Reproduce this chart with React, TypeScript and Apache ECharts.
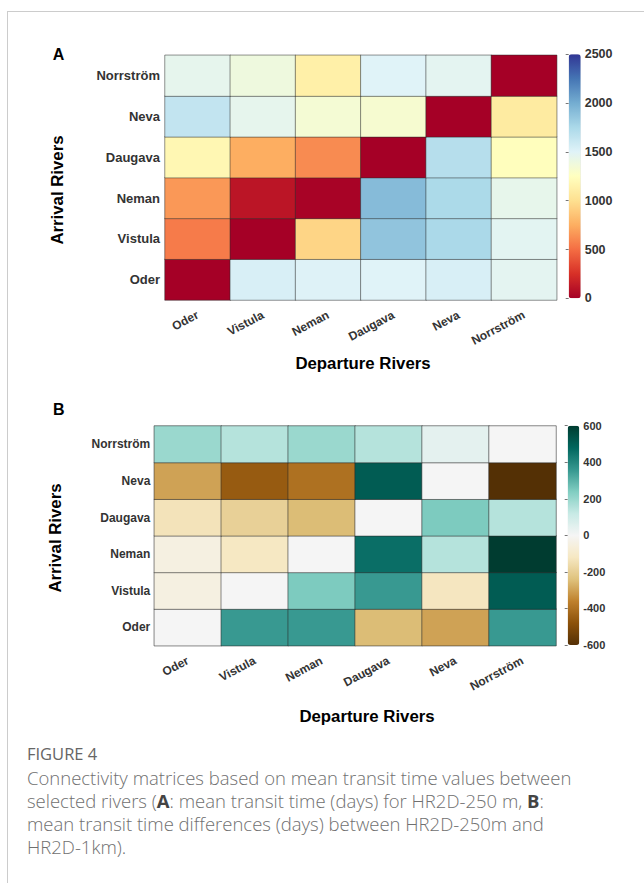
import React, { useEffect, useRef } from 'react';
import * as echarts from 'echarts';

// Departure (x) and arrival (y, bottom -> top) rivers
const rivers = ['Oder', 'Vistula', 'Neman', 'Daugava', 'Neva', 'Norrström'];

// Panel A: mean transit time (days); rows = arrival river (Oder first), cols = departure
const transitOder = [0, 1540, 1510, 1500, 1540, 1470];
const transitVistula = [555, 0, 945, 1870, 1750, 1475];
const transitNeman = [665, 110, 15, 1920, 1745, 1445];
const transitDaugava = [1185, 750, 615, 0, 1700, 1240];
const transitNeva = [1640, 1450, 1340, 1325, 0, 1090];
const transitNorrstrom = [1450, 1385, 1130, 1500, 1470, 0];
const transitA = [transitOder, transitVistula, transitNeman, transitDaugava, transitNeva, transitNorrstrom];

// Panel B: mean transit time differences (days)
const diffOder = [0, 355, 355, -250, -300, 355];
const diffVistula = [-48, 0, 245, 355, -125, 510];
const diffNeman = [-48, -120, 0, 460, 150, 600];
const diffDaugava = [-135, -195, -250, 0, 245, 150];
const diffNeva = [-300, -455, -400, 510, 0, -600];
const diffNorrstrom = [196, 150, 196, 150, 44, 0];
const diffB = [diffOder, diffVistula, diffNeman, diffDaugava, diffNeva, diffNorrstrom];

const rangeA = [0, 2500];
const stepA = 500;
const rangeB = [-600, 600];
const stepB = 200;

const colorsA = ['#a50026', '#d73027', '#f46d43', '#fdae61', '#fee090', '#ffffbf', '#e0f3f8', '#abd9e9', '#74add1', '#4575b4', '#313695'];
const colorsB = ['#543005', '#8c510a', '#bf812d', '#dfc27d', '#f6e8c3', '#f5f5f5', '#c7eae5', '#80cdc1', '#35978f', '#01665e', '#003c30'];

const figureLabel = 'FIGURE 4';
const captionLines = [
  'Connectivity matrices based on mean transit time values between',
  'selected rivers ({b|A}: mean transit time (days) for HR2D-250 m, {b|B}:',
  'mean transit time differences (days) between HR2D-250m and',
  'HR2D-1km).',
];

function toCells(m: number[][]) {
  const out: number[][] = [];
  m.forEach((row, yi) => row.forEach((v, xi) => out.push([xi, yi, v])));
  return out;
}

const FONT = '"Liberation Sans", Arial, Helvetica, sans-serif';
const CAP_FONT = '"Open Sans", "Noto Sans", sans-serif';

export default function App() {
  const ref = useRef<HTMLDivElement>(null);
  useEffect(() => {
    if (!ref.current) return;
    const chart = echarts.init(ref.current, undefined, { renderer: 'svg' });

    const gA = { left: 165, top: 55.3, width: 391.7, height: 244.7 };
    const gB = { left: 154.3, top: 426, width: 401.7, height: 219.7 };
    const cA = { left: 568.7, top: 54.3, width: 12, height: 244 };
    const cB = { left: 567.7, top: 425.7, width: 11.6, height: 219.3 };

    const catX = (gi: number, fs: number) => ({
      type: 'category', gridIndex: gi, data: rivers,
      axisLine: { show: false }, axisTick: { show: false }, splitLine: { show: false },
      axisLabel: { rotate: 28, margin: 14, fontSize: fs, fontWeight: 'bold', color: '#333', fontFamily: FONT, interval: 0 },
    });
    const catY = (gi: number, fs: number, margin: number) => ({
      type: 'category', gridIndex: gi, data: rivers,
      axisLine: { show: false }, axisTick: { show: false }, splitLine: { show: false },
      axisLabel: { margin, fontSize: fs, fontWeight: 'bold', color: '#333', fontFamily: FONT, interval: 0 },
    });
    const barY = (gi: number, range: number[], step: number, fs: number) => ({
      type: 'value', gridIndex: gi, min: range[0], max: range[1], interval: step, position: 'right',
      axisLine: { show: false }, splitLine: { show: false },
      axisTick: { show: true, inside: true, length: 3, lineStyle: { color: '#777' } },
      axisLabel: { margin: 4, fontSize: fs, fontWeight: 'bold', color: '#333', fontFamily: FONT, formatter: (v: number) => String(v) },
    });
    const hiddenX = (gi: number) => ({ type: 'value', gridIndex: gi, show: false, min: 0, max: 1 });

    const txt = (text: string, x: number, y: number, fs: number, extra: any = {}) => ({
      type: 'text', x, y, silent: true, ...extra,
      style: { text, fontSize: fs, fontWeight: 'bold', fontFamily: FONT, fill: '#000', align: 'center', verticalAlign: 'middle', ...(extra.style || {}) },
    });

    const graphics: any[] = [
      { type: 'line', silent: true, shape: { x1: 7.5, y1: 11, x2: 7.5, y2: 883 }, style: { stroke: '#cccccc', lineWidth: 1 } },
      { type: 'line', silent: true, shape: { x1: 7, y1: 11.5, x2: 644, y2: 11.5 }, style: { stroke: '#cccccc', lineWidth: 1 } },
      txt('A', 58.5, 54.5, 16),
      txt('B', 58.8, 409.2, 16),
      txt('Departure Rivers', 363, 363, 16.8),
      txt('Departure Rivers', 367, 716, 16.8),
      txt('Arrival Rivers', 57, 190, 16.8, { rotation: Math.PI / 2 }),
      txt('Arrival Rivers', 55, 538, 16.8, { rotation: Math.PI / 2 }),
      {
        type: 'text', x: 27, y: 753, silent: true,
        style: { text: figureLabel, fontSize: 16.5, lineHeight: 18, fontFamily: CAP_FONT, fill: '#666', align: 'left', verticalAlign: 'middle' },
      },
    ];
    captionLines.forEach((line, i) => {
      graphics.push({
        type: 'text', x: 27, y: 777 + i * 23, silent: true,
        style: {
          text: line, fontSize: 18.5, lineHeight: 20, fontWeight: 300, fontFamily: CAP_FONT, fill: '#707070', align: 'left', verticalAlign: 'middle',
          rich: { b: { fontSize: 18.5, lineHeight: 20, fontWeight: 'bold', fontFamily: CAP_FONT, fill: '#444' } },
        },
      });
    });

    const option: any = {
      animation: false,
      backgroundColor: '#ffffff',
      grid: [
        { ...gA, containLabel: false },
        { ...gB, containLabel: false },
        { ...cA, containLabel: false },
        { ...cB, containLabel: false },
      ],
      xAxis: [catX(0, 12), catX(1, 12), hiddenX(2), hiddenX(3)],
      yAxis: [catY(0, 13, 5), catY(1, 12, 4), barY(2, rangeA, stepA, 12.5), barY(3, rangeB, stepB, 11)],
      visualMap: [
        {
          type: 'continuous', seriesIndex: 0, min: rangeA[0], max: rangeA[1], calculable: false,
          orient: 'vertical', left: cA.left, top: cA.top, itemWidth: cA.width, itemHeight: cA.height,
          padding: 0, inRange: { color: colorsA }, text: null, hoverLink: false,
        },
        {
          type: 'continuous', seriesIndex: 1, min: rangeB[0], max: rangeB[1], calculable: false,
          orient: 'vertical', left: cB.left, top: cB.top, itemWidth: cB.width, itemHeight: cB.height,
          padding: 0, inRange: { color: colorsB }, text: null, hoverLink: false,
        },
      ],
      series: [
        {
          type: 'heatmap', xAxisIndex: 0, yAxisIndex: 0, data: toCells(transitA),
          itemStyle: { borderColor: 'rgba(40,40,40,0.5)', borderWidth: 1 },
          emphasis: { disabled: true },
        },
        {
          type: 'heatmap', xAxisIndex: 1, yAxisIndex: 1, data: toCells(diffB),
          itemStyle: { borderColor: 'rgba(40,40,40,0.55)', borderWidth: 1 },
          emphasis: { disabled: true },
        },
      ],
      graphic: graphics,
    };
    chart.setOption(option);
    return () => chart.dispose();
  }, []);

  return <div ref={ref} style={{ position: 'absolute', left: 0, top: 0, width: 644, height: 883 }} />;
}
